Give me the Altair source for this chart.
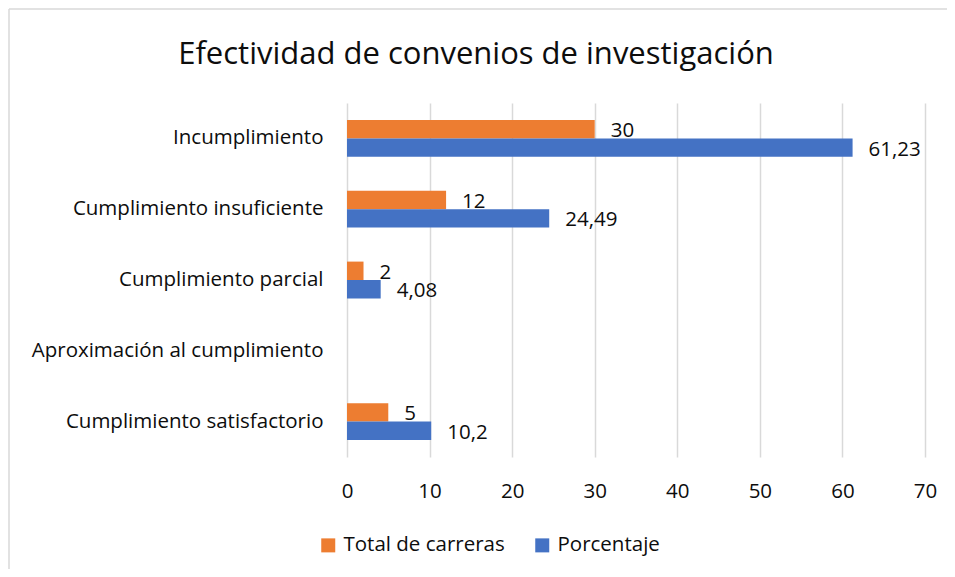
import altair as alt
import pandas as pd

categories = [
    "Incumplimiento",
    "Cumplimiento insuficiente",
    "Cumplimiento parcial",
    "Aproximación al cumplimiento",
    "Cumplimiento satisfactorio",
]
series_names = ["Total de carreras", "Porcentaje"]
total_carreras = [30, 12, 2, None, 5]
porcentaje = [61.23, 24.49, 4.08, None, 10.2]
x_ticks = [0, 10, 20, 30, 40, 50, 60, 70]
colors = ["#ED7D31", "#4472C4"]

FONT = "Open Sans"
TXT = "#0d0d0d"

rows = []
for cat, t, p in zip(categories, total_carreras, porcentaje):
    for name, v in ((series_names[0], t), (series_names[1], p)):
        if v is None:
            continue
        rows.append({
            "categoria": cat,
            "serie": name,
            "valor": v,
            "etiqueta": str(v).replace(".", ","),
        })
df = pd.DataFrame(rows)

y_enc = alt.Y(
    "categoria:N",
    sort=categories,
    scale=alt.Scale(domain=categories, paddingInner=0.48, paddingOuter=0.24),
    axis=alt.Axis(
        title=None, ticks=False, domain=False, grid=False,
        labelFont=FONT, labelFontSize=20.5, labelColor=TXT,
        labelPadding=24, labelLimit=400,
    ),
)
yoff_enc = alt.YOffset(
    "serie:N", sort=series_names,
    scale=alt.Scale(domain=series_names, paddingInner=0, paddingOuter=0),
)
x_enc = alt.X(
    "valor:Q",
    scale=alt.Scale(domain=[0, 70], nice=False, zero=True),
    axis=alt.Axis(
        title=None, values=x_ticks, ticks=False, domain=False,
        grid=True, gridColor="#d9d9d9", gridWidth=1.5,
        labelFont=FONT, labelFontSize=20.5, labelColor=TXT,
        labelPadding=24, labelFlush=False,
    ),
)
color_enc = alt.Color(
    "serie:N",
    sort=series_names,
    scale=alt.Scale(domain=series_names, range=colors),
    legend=alt.Legend(
        title=None, orient="none", direction="horizontal",
        legendX=-29, legendY=432, symbolType="square", symbolSize=196,
        symbolStrokeWidth=0, labelFont=FONT, labelFontSize=20.5,
        labelColor=TXT, labelOffset=5, columnPadding=27, padding=0,
        labelLimit=400,
    ),
)

bars = alt.Chart(df).mark_bar().encode(
    x=x_enc, y=y_enc, yOffset=yoff_enc, color=color_enc,
)
labels = alt.Chart(df).mark_text(
    align="left", baseline="middle", dx=16, dy=2,
    font=FONT, fontSize=20.5, color=TXT,
).encode(
    x="valor:Q", y=alt.Y("categoria:N", sort=categories), yOffset=alt.YOffset("serie:N", sort=series_names),
    text="etiqueta:N",
)

border_df = pd.DataFrame({"k": [0]})
left_border = alt.Chart(border_df).mark_rule(color="#d9d9d9", strokeWidth=1.5).encode(
    x=alt.value(-338), y=alt.value(-94), y2=alt.value(480),
)
top_border = alt.Chart(border_df).mark_rule(color="#d9d9d9", strokeWidth=1.5).encode(
    x=alt.value(-338), x2=alt.value(620), y=alt.value(-94),
)

chart = alt.layer(left_border, top_border, bars, labels).properties(
    width=578,
    height=354,
    autosize=alt.AutoSizeParams(type="none"),
    padding={"left": 339, "top": 95, "right": 22, "bottom": 112},
    title=alt.TitleParams(
        "Efectividad de convenios de investigación",
        font=FONT, fontSize=31, fontWeight="normal", color=TXT,
        anchor="middle", frame="group", dx=-160, offset=0, dy=87,
        baseline="alphabetic",
    ),
).configure_view(stroke=None)

chart.save("out.html", embed_options={"renderer": "svg", "actions": False})
